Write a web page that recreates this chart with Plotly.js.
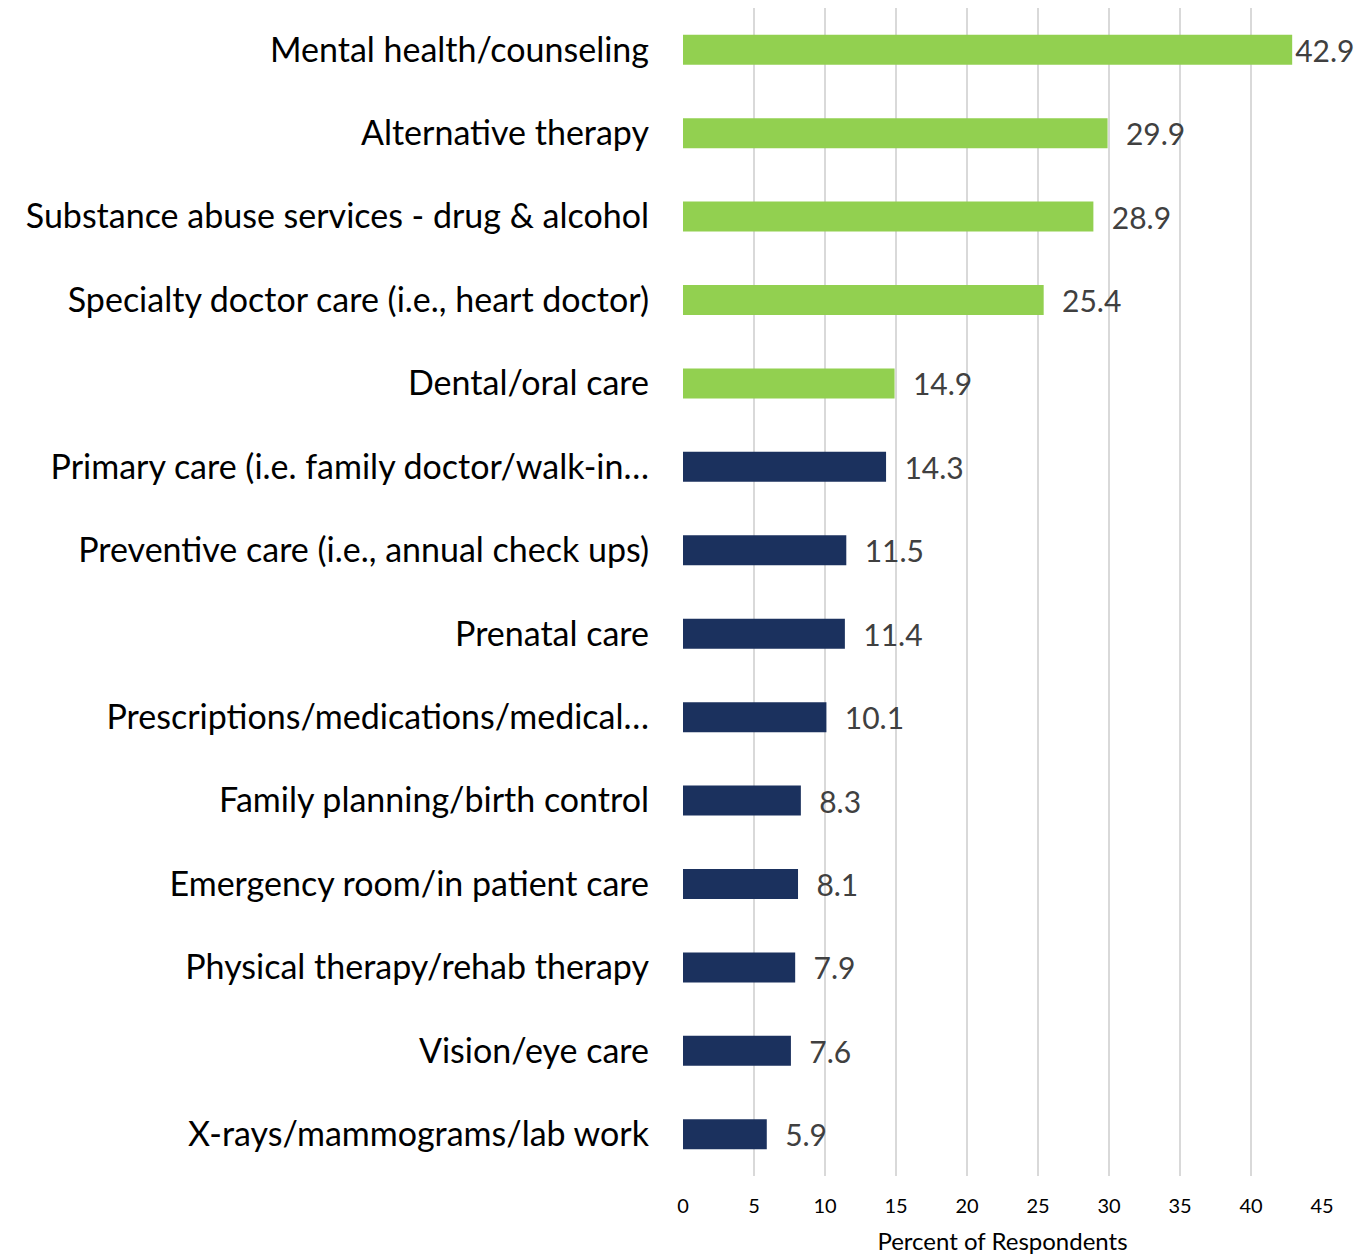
<!DOCTYPE html>
<html>
<head>
<meta charset="utf-8">
<script src="https://cdn.plot.ly/plotly-3.0.1.min.js"></script>
<style>html,body{margin:0;padding:0;background:#fff;}#chart{width:1366px;height:1255px;}</style>
</head>
<body>
<div id="chart"></div>
<script>
const categories = [
  "Mental health/counseling",
  "Alternative therapy",
  "Substance abuse services - drug & alcohol",
  "Specialty doctor care (i.e., heart doctor)",
  "Dental/oral care",
  "Primary care (i.e. family doctor/walk-in…",
  "Preventive care (i.e., annual check ups)",
  "Prenatal care",
  "Prescriptions/medications/medical…",
  "Family planning/birth control",
  "Emergency room/in patient care",
  "Physical therapy/rehab therapy",
  "Vision/eye care",
  "X-rays/mammograms/lab work"
];
const percents = [42.9, 29.9, 28.9, 25.4, 14.9, 14.3, 11.5, 11.4, 10.1, 8.3, 8.1, 7.9, 7.6, 5.9];
const topGroupCount = 5;
const xTicks = [0, 5, 10, 15, 20, 25, 30, 35, 40, 45];

const colors = percents.map((v, i) => i < topGroupCount ? "#92d050" : "#1b315e");
const labels = percents.map(v => (v > 40 ? "" : "  ") + v.toFixed(1));

const trace = {
  type: "bar",
  orientation: "h",
  y: categories,
  x: percents,
  width: 0.36,
  marker: {color: colors},
  text: labels,
  texttemplate: "%{text}",
  textposition: "outside",
  cliponaxis: false,
  constraintext: "none",
  textfont: {family: "Lato, sans-serif", size: 30, color: "#404040"},
  hoverinfo: "none"
};

const layout = {
  width: 1366,
  height: 1255,
  margin: {l: 683, r: 44, t: 8, b: 79},
  paper_bgcolor: "#ffffff",
  plot_bgcolor: "#ffffff",
  showlegend: false,
  font: {family: "Lato, sans-serif", color: "#000000"},
  xaxis: {
    range: [0, 45],
    tickvals: xTicks,
    ticktext: xTicks.map(String),
    showgrid: true,
    gridcolor: "#d9d9d9",
    gridwidth: 1.5,
    zeroline: false,
    showline: false,
    ticks: "",
    ticklabelstandoff: 16,
    tickfont: {size: 20, color: "#000000"},
    title: {text: "Percent of Respondents", font: {size: 24, color: "#000000"}, standoff: 18},
    automargin: false,
    fixedrange: true
  },
  yaxis: {
    autorange: "reversed",
    showgrid: false,
    zeroline: false,
    showline: false,
    ticks: "",
    ticklabelstandoff: 33,
    tickfont: {size: 34, color: "#000000"},
    automargin: false,
    fixedrange: true
  },
  bargap: 0.64
};

Plotly.newPlot("chart", [trace], layout, {displayModeBar: false, staticPlot: true});
</script>
</body>
</html>
